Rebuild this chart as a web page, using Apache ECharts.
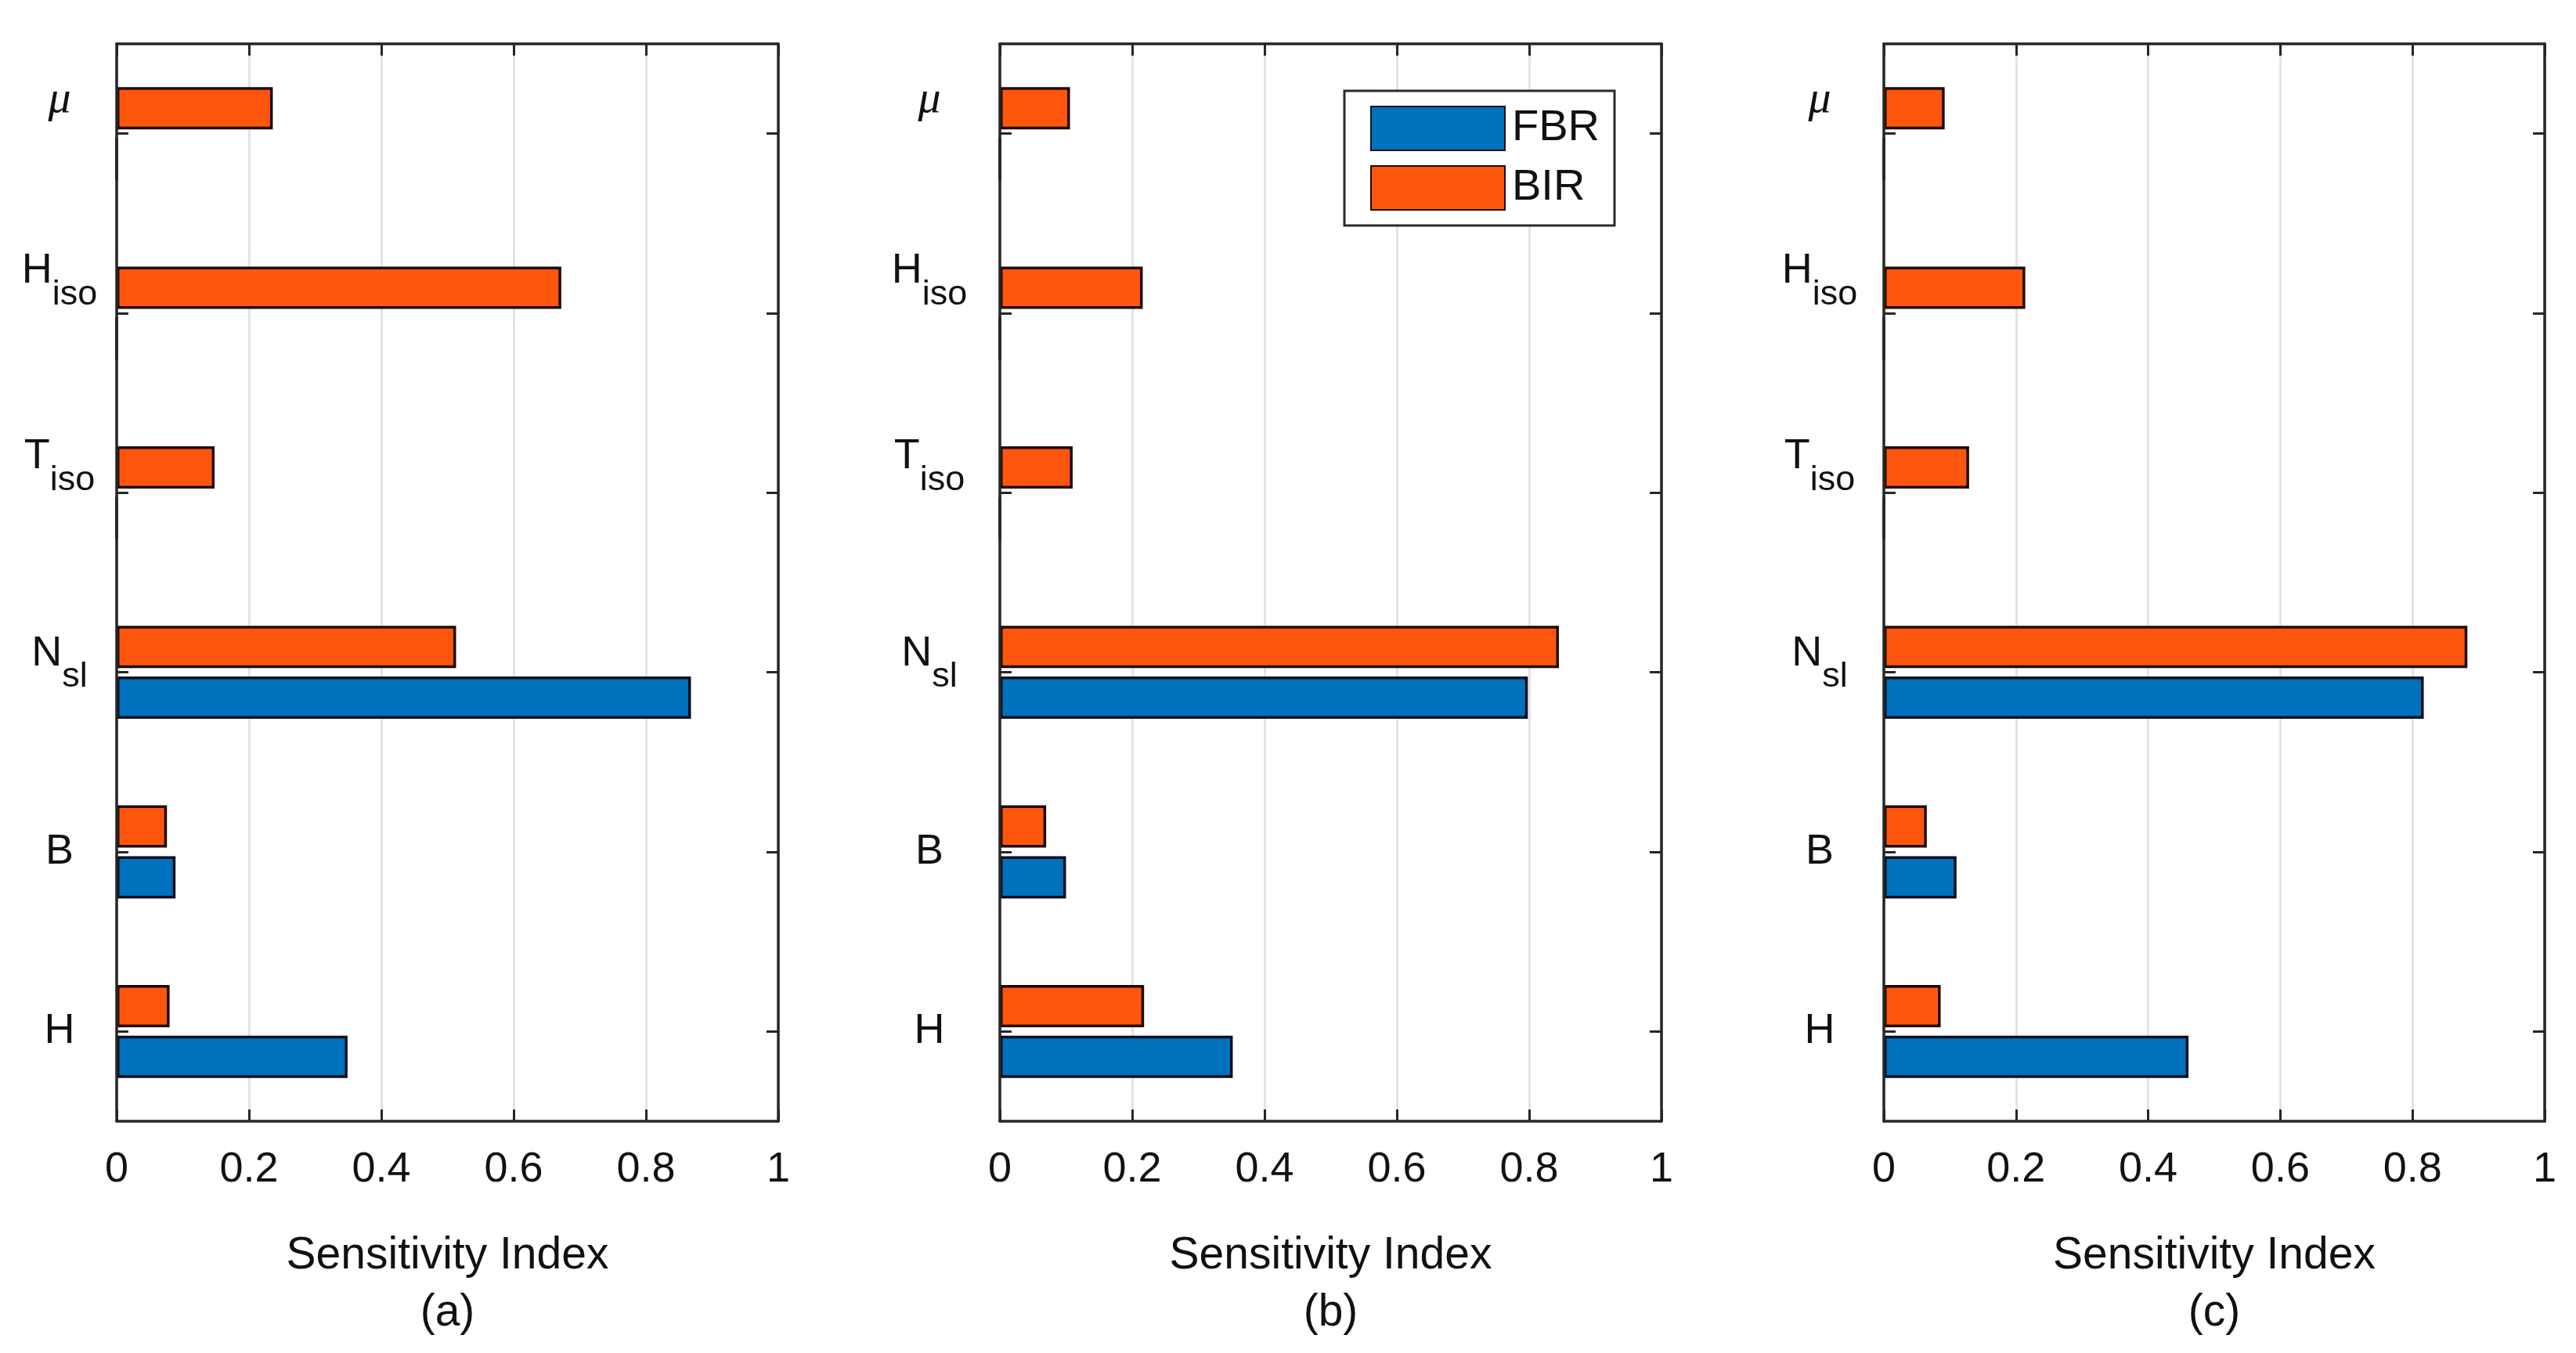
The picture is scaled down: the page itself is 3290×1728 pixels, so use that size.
<!DOCTYPE html>
<html><head><meta charset="utf-8">
<script src="https://cdn.jsdelivr.net/npm/echarts@6/dist/echarts.min.js"></script>
<style>html,body{margin:0;padding:0;background:#fff}#c{width:3290px;height:1728px}</style>
</head><body><div id="c"></div>
<script>
// ---- data (bottom to top) ----
const categories = ['H', 'B', 'N_sl', 'T_iso', 'H_iso', 'mu'];
const panelNames = ['(a)', '(b)', '(c)'];
const seriesNames = ['FBR', 'BIR'];
const xTickLabels = ['0', '0.2', '0.4', '0.6', '0.8', '1'];
const fbrA = [0.349, 0.089, 0.868, 0, 0, 0];
const birA = [0.080, 0.076, 0.513, 0.148, 0.672, 0.236];
const fbrB = [0.352, 0.100, 0.798, 0, 0, 0];
const birB = [0.218, 0.070, 0.845, 0.110, 0.216, 0.106];
const fbrC = [0.461, 0.110, 0.817, 0, 0, 0];
const birC = [0.086, 0.065, 0.883, 0.129, 0.214, 0.092];
const fbrData = [fbrA, fbrB, fbrC];
const birData = [birA, birB, birC];

const FONT = 'Liberation Sans, Arial, sans-serif';
const TXT = '#111';
const AX = '#262626';
const BLUE = '#0072BD';
const ORANGE = '#FF560D';

const labelMap = {
  'H': '{p|H}',
  'B': '{p|B}',
  'N_sl': '{nm|N}{ns|sl}',
  'T_iso': '{tm|T}{ts|iso}',
  'H_iso': '{hm|H}{hs|iso}',
  'mu': '{mu|\u03bc}'
};
const mainS = (hb) => ({fontSize: 54, lineHeight: hb, verticalAlign: 'top', padding: [0, 0, hb - 54, 0], fontFamily: FONT, color: TXT});
const subS = (pt) => ({fontSize: 45, lineHeight: 45, verticalAlign: 'top', padding: [pt, 0, 0, 0], fontFamily: FONT, color: TXT});
const rich = {
  p: {fontSize: 54, lineHeight: 54, fontFamily: FONT, color: TXT},
  nm: mainS(102), ns: subS(34),
  tm: mainS(146), ts: subS(35),
  hm: mainS(162), hs: subS(35),
  mu: {fontSize: 58, lineHeight: 58, fontFamily: 'Liberation Serif, serif', fontStyle: 'italic', color: TXT, padding: [0, 0, 86, 0]}
};

const lefts = [149, 1277, 2406];
const widths = [845, 845, 844];
const labelMargins = [73, 90, 82];

const grid = [], xAxis = [], yAxis = [], series = [];
for (let i = 0; i < 3; i++) {
  grid.push({left: lefts[i], width: widths[i], top: 56, height: 1376, containLabel: false});
  const lineStyle = {color: AX, width: 3.5};
  const tickStyle = {color: AX, width: 3};
  xAxis.push({
    gridIndex: i, type: 'value', min: 0, max: 1, interval: 0.2, position: 'bottom',
    axisLine: {show: true, onZero: false, lineStyle},
    axisTick: {show: true, inside: true, length: 15, lineStyle: tickStyle},
    axisLabel: {show: true, margin: 35, fontSize: 54, fontFamily: FONT, color: TXT,
      formatter: (v) => xTickLabels[Math.round(v / 0.2)]},
    splitLine: {show: true, lineStyle: {color: '#e3e3e3', width: 3}},
    name: '{t|Sensitivity Index}\n{t|' + panelNames[i] + '}',
    nameLocation: 'middle', nameGap: 136,
    nameTextStyle: {rich: {t: {fontSize: 57, lineHeight: 73, fontFamily: FONT, color: TXT}}}
  });
  xAxis.push({
    gridIndex: i, type: 'value', min: 0, max: 1, interval: 0.2, position: 'top',
    axisLine: {show: true, onZero: false, lineStyle},
    axisTick: {show: true, inside: true, length: 15, lineStyle: tickStyle},
    axisLabel: {show: false}, splitLine: {show: false}
  });
  yAxis.push({
    gridIndex: i, type: 'category', data: categories, position: 'left', z: 5,
    axisLine: {show: true, onZero: false, lineStyle},
    axisTick: {show: true, inside: true, alignWithLabel: true, length: 15, lineStyle: tickStyle},
    axisLabel: {show: true, margin: labelMargins[i], align: 'center',
      formatter: (v) => labelMap[v], rich: rich},
    splitLine: {show: false}
  });
  yAxis.push({
    gridIndex: i, type: 'category', data: categories, position: 'right', z: 5,
    axisLine: {show: true, onZero: false, lineStyle},
    axisTick: {show: true, inside: true, alignWithLabel: true, length: 15, lineStyle: tickStyle},
    axisLabel: {show: false}, splitLine: {show: false}
  });
  // BIR first so it sits above FBR within each category (as in the reference)
  series.push({
    name: seriesNames[1], type: 'bar', xAxisIndex: 2 * i, yAxisIndex: 2 * i,
    data: birData[i], barWidth: 54, barGap: '20%',
    itemStyle: {color: ORANGE, borderColor: '#1e0a00', borderWidth: 3.5}
  });
  series.push({
    name: seriesNames[0], type: 'bar', xAxisIndex: 2 * i, yAxisIndex: 2 * i,
    data: fbrData[i], barWidth: 54, barGap: '20%',
    itemStyle: {color: BLUE, borderColor: '#0a0f1e', borderWidth: 3.5}
  });
}

const chart = echarts.init(document.getElementById('c'), null, {renderer: 'canvas'});
chart.setOption({
  animation: false,
  backgroundColor: '#fff',
  grid, xAxis, yAxis, series,
  legend: {
    data: seriesNames, orient: 'vertical', left: 1717, top: 116,
    itemWidth: 171, itemHeight: 56, itemGap: 18, padding: [19, 19, 19, 33],
    borderColor: '#2a2a2a', borderWidth: 3, backgroundColor: '#fff',
    icon: 'rect', textStyle: {fontSize: 56, fontFamily: FONT, color: TXT, padding: [0, 0, 0, 4]}
  }
});
</script></body></html>
